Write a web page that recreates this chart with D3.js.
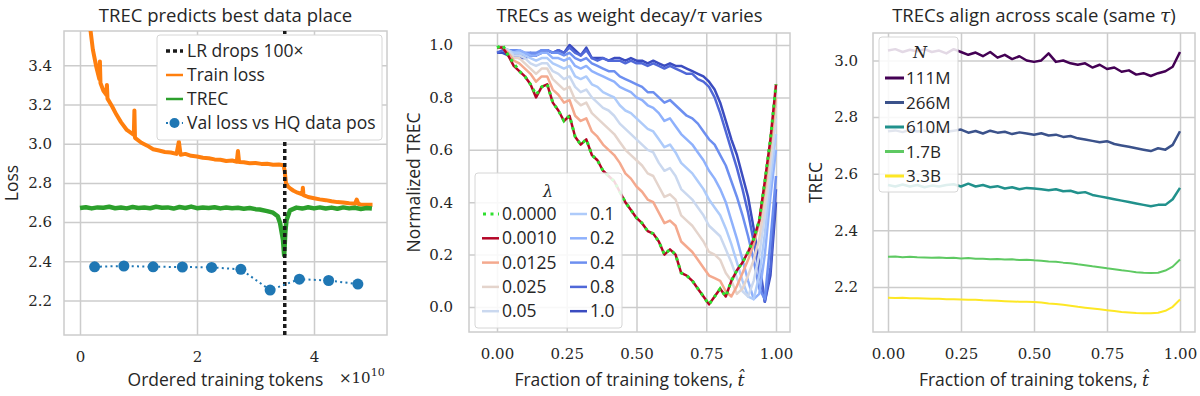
<!DOCTYPE html>
<html>
<head>
<meta charset="utf-8">
<script src="https://cdn.jsdelivr.net/npm/d3@7"></script>
<style>
  body { margin: 0; background: #fff; }
  text { fill: #262626; }
  .sans { font-family: "Open Sans", "Noto Sans", sans-serif; }
  .tick text { font-family: "DejaVu Serif", serif; font-size: 15px; fill: #262626; }
</style>
</head>
<body>
<div id="chart"></div>
<script>
// ---------- panel 1: loss vs ordered training tokens (x in units of 1e10) ----------
const trainX = [0.10, 0.15, 0.22, 0.28, 0.33, 0.34, 0.35, 0.40, 0.45, 0.46, 0.47, 0.55, 0.62, 0.70, 0.80,
  0.92, 0.93, 0.94, 1.05, 1.15, 1.25, 1.35, 1.45, 1.55, 1.65, 1.69, 1.72, 1.80, 1.90, 2.00, 2.10, 2.20,
  2.30, 2.40, 2.50, 2.60, 2.68, 2.70, 2.72, 2.80, 2.90, 3.00, 3.10, 3.20, 3.30, 3.40, 3.48, 3.50, 3.52,
  3.56, 3.60, 3.65, 3.72, 3.80, 3.81, 3.82, 3.90, 4.00, 4.10, 4.20, 4.30, 4.40, 4.50, 4.60, 4.70, 4.73,
  4.76, 4.80, 4.90, 5.00];
const trainY = [3.90, 3.65, 3.48, 3.39, 3.33, 3.42, 3.31, 3.27, 3.25, 3.30, 3.23, 3.19, 3.15, 3.11, 3.07,
  3.045, 3.17, 3.03, 3.005, 2.99, 2.972, 2.965, 2.958, 2.955, 2.948, 3.01, 2.944, 2.948, 2.938, 2.935,
  2.928, 2.926, 2.92, 2.918, 2.912, 2.914, 2.908, 2.963, 2.906, 2.905, 2.90, 2.902, 2.897, 2.898, 2.893,
  2.894, 2.89, 2.86, 2.80, 2.78, 2.77, 2.76, 2.75, 2.742, 2.775, 2.738, 2.728, 2.722, 2.716, 2.712,
  2.706, 2.702, 2.700, 2.696, 2.694, 2.715, 2.692, 2.690, 2.688, 2.688];

const trecX = [0.00, 0.10, 0.20, 0.30, 0.40, 0.50, 0.60, 0.70, 0.80, 0.90, 1.00, 1.10, 1.20, 1.30, 1.40,
  1.50, 1.60, 1.70, 1.80, 1.90, 2.00, 2.10, 2.20, 2.30, 2.40, 2.50, 2.60, 2.70, 2.80, 2.90, 3.00, 3.07,
  3.20, 3.30, 3.38, 3.42, 3.47, 3.49, 3.51, 3.53, 3.59, 3.70, 3.80, 3.90, 4.00, 4.10, 4.20, 4.30, 4.40,
  4.50, 4.60, 4.70, 4.80, 4.90, 4.99];
const trecY = [2.672, 2.676, 2.670, 2.675, 2.673, 2.678, 2.671, 2.674, 2.670, 2.677, 2.672, 2.675, 2.671,
  2.678, 2.673, 2.675, 2.669, 2.677, 2.672, 2.679, 2.671, 2.675, 2.672, 2.676, 2.670, 2.674, 2.671, 2.673,
  2.668, 2.672, 2.666, 2.664, 2.656, 2.648, 2.630, 2.595, 2.51, 2.43, 2.55, 2.61, 2.66, 2.674, 2.669,
  2.676, 2.670, 2.675, 2.669, 2.674, 2.668, 2.675, 2.670, 2.673, 2.667, 2.672, 2.669];

const valX = [0.25, 0.75, 1.25, 1.75, 2.25, 2.75, 3.25, 3.75, 4.25, 4.75];
const valY = [2.372, 2.376, 2.372, 2.371, 2.369, 2.359, 2.253, 2.309, 2.302, 2.284];
const lrDropX = 3.5;

const p1XTicks = [0, 2, 4];
const p1YTicks = [2.2, 2.4, 2.6, 2.8, 3.0, 3.2, 3.4];

// ---------- panel 2: normalized TREC for each weight decay ----------
const tGrid = [0.00, 0.02, 0.04, 0.06, 0.08, 0.10, 0.12, 0.14, 0.16, 0.18, 0.20, 0.22, 0.24, 0.26, 0.28,
  0.30, 0.32, 0.34, 0.36, 0.38, 0.40, 0.42, 0.44, 0.46, 0.48, 0.50, 0.52, 0.54, 0.56, 0.58, 0.60, 0.62,
  0.64, 0.66, 0.68, 0.70, 0.72, 0.74, 0.76, 0.78, 0.80, 0.82, 0.84, 0.86, 0.88, 0.90, 0.92, 0.94, 0.96,
  0.98, 1.00];

const lambdaLabels = ["0.0000", "0.0010", "0.0125", "0.025", "0.05", "0.1", "0.2", "0.4", "0.8", "1.0"];
const lambdaColors = ["#2ee02e", "#b40426", "#f4a98e", "#e4d4cc", "#cad8ef", "#aecbfa", "#8fb1fc",
  "#6d8ff0", "#5068d8", "#3b4cc0"];

const trecL0000 = [0.99, 1.00, 0.96, 0.93, 0.90, 0.88, 0.85, 0.81, 0.84, 0.85, 0.78, 0.75, 0.71, 0.73,
  0.65, 0.62, 0.64, 0.58, 0.56, 0.52, 0.50, 0.48, 0.44, 0.40, 0.37, 0.34, 0.32, 0.29, 0.28, 0.25, 0.20,
  0.22, 0.20, 0.13, 0.12, 0.10, 0.07, 0.04, 0.01, 0.04, 0.07, 0.04, 0.10, 0.14, 0.17, 0.21, 0.26, 0.33,
  0.48, 0.64, 0.85];
const trecL0010 = [0.99, 0.99, 0.96, 0.92, 0.90, 0.88, 0.85, 0.80, 0.84, 0.85, 0.78, 0.75, 0.71, 0.73,
  0.65, 0.62, 0.64, 0.58, 0.56, 0.52, 0.50, 0.48, 0.44, 0.40, 0.37, 0.34, 0.32, 0.29, 0.28, 0.25, 0.20,
  0.22, 0.20, 0.13, 0.12, 0.10, 0.07, 0.04, 0.01, 0.04, 0.07, 0.04, 0.10, 0.14, 0.17, 0.21, 0.26, 0.33,
  0.48, 0.64, 0.85];
const trecL0125 = [0.99, 0.99, 0.97, 0.94, 0.93, 0.91, 0.89, 0.86, 0.88, 0.88, 0.83, 0.81, 0.78, 0.79,
  0.73, 0.71, 0.72, 0.67, 0.65, 0.62, 0.60, 0.58, 0.55, 0.51, 0.49, 0.46, 0.44, 0.41, 0.40, 0.36, 0.32,
  0.33, 0.31, 0.25, 0.23, 0.21, 0.18, 0.15, 0.12, 0.11, 0.10, 0.06, 0.04, 0.08, 0.13, 0.18, 0.24, 0.32,
  0.45, 0.62, 0.80];
const trecL025 = [0.99, 0.99, 0.97, 0.95, 0.95, 0.93, 0.91, 0.89, 0.91, 0.91, 0.87, 0.85, 0.83, 0.84,
  0.79, 0.77, 0.78, 0.74, 0.72, 0.70, 0.68, 0.66, 0.63, 0.60, 0.58, 0.56, 0.54, 0.51, 0.50, 0.46, 0.42,
  0.43, 0.41, 0.35, 0.33, 0.31, 0.28, 0.25, 0.21, 0.20, 0.18, 0.13, 0.10, 0.05, 0.07, 0.12, 0.18, 0.26,
  0.40, 0.58, 0.76];
const trecL05 = [0.99, 0.99, 0.98, 0.96, 0.96, 0.95, 0.93, 0.92, 0.93, 0.93, 0.90, 0.89, 0.87, 0.88,
  0.84, 0.82, 0.83, 0.80, 0.78, 0.76, 0.75, 0.73, 0.70, 0.68, 0.66, 0.64, 0.62, 0.60, 0.59, 0.55, 0.52,
  0.53, 0.50, 0.45, 0.43, 0.41, 0.38, 0.35, 0.31, 0.29, 0.27, 0.22, 0.17, 0.11, 0.06, 0.04, 0.10, 0.20,
  0.35, 0.53, 0.72];
const trecL1 = [0.99, 0.99, 0.98, 0.97, 0.97, 0.96, 0.95, 0.94, 0.95, 0.95, 0.93, 0.92, 0.91, 0.92,
  0.88, 0.87, 0.88, 0.85, 0.84, 0.82, 0.81, 0.80, 0.77, 0.75, 0.74, 0.72, 0.70, 0.68, 0.67, 0.64, 0.61,
  0.62, 0.59, 0.55, 0.53, 0.51, 0.48, 0.45, 0.41, 0.38, 0.35, 0.30, 0.24, 0.17, 0.10, 0.04, 0.03, 0.12,
  0.28, 0.48, 0.66];
const trecL2 = [0.99, 0.99, 0.98, 0.97, 0.98, 0.97, 0.96, 0.96, 0.97, 0.97, 0.95, 0.95, 0.94, 0.95,
  0.92, 0.91, 0.92, 0.90, 0.89, 0.88, 0.87, 0.86, 0.84, 0.83, 0.82, 0.80, 0.79, 0.77, 0.76, 0.74, 0.71,
  0.72, 0.69, 0.66, 0.64, 0.62, 0.59, 0.56, 0.52, 0.49, 0.45, 0.40, 0.33, 0.26, 0.18, 0.10, 0.03, 0.05,
  0.20, 0.42, 0.60];
const trecL4 = [0.99, 0.99, 0.98, 0.98, 0.98, 0.97, 0.97, 0.97, 0.98, 0.98, 0.97, 0.97, 0.96, 0.97,
  0.95, 0.94, 0.95, 0.93, 0.92, 0.91, 0.90, 0.90, 0.88, 0.87, 0.86, 0.85, 0.84, 0.82, 0.82, 0.80, 0.78,
  0.79, 0.77, 0.75, 0.73, 0.72, 0.70, 0.67, 0.64, 0.62, 0.58, 0.54, 0.48, 0.42, 0.35, 0.27, 0.18, 0.07,
  0.03, 0.25, 0.50];
const trecL8 = [0.97, 0.98, 0.97, 0.96, 0.96, 0.96, 0.97, 0.96, 0.98, 0.98, 0.97, 0.98, 0.97, 0.99,
  0.97, 0.96, 0.98, 0.95, 0.94, 0.95, 0.94, 0.94, 0.94, 0.93, 0.94, 0.93, 0.93, 0.92, 0.93, 0.92, 0.91,
  0.92, 0.91, 0.90, 0.89, 0.89, 0.87, 0.86, 0.84, 0.80, 0.74, 0.67, 0.60, 0.53, 0.45, 0.36, 0.25, 0.13,
  0.02, 0.15, 0.45];
const trecL10 = [0.97, 0.97, 0.96, 0.96, 0.95, 0.95, 0.96, 0.96, 0.97, 0.98, 0.97, 0.98, 0.97, 1.00,
  0.98, 0.96, 0.99, 0.95, 0.95, 0.95, 0.94, 0.95, 0.95, 0.94, 0.95, 0.94, 0.94, 0.93, 0.94, 0.93, 0.92,
  0.93, 0.92, 0.92, 0.91, 0.90, 0.89, 0.88, 0.86, 0.83, 0.78, 0.71, 0.64, 0.58, 0.50, 0.42, 0.30, 0.17,
  0.02, 0.12, 0.40];
const lambdaSeries = [trecL0000, trecL0010, trecL0125, trecL025, trecL05, trecL1, trecL2, trecL4, trecL8, trecL10];

const p2Ticks = [0, 0.25, 0.5, 0.75, 1.0];
const p2YTicks = [0, 0.2, 0.4, 0.6, 0.8, 1.0];

// ---------- panel 3: TREC across model size ----------
const tGrid3 = [0.000, 0.025, 0.050, 0.075, 0.100, 0.125, 0.150, 0.175, 0.200, 0.225, 0.250, 0.275, 0.300,
  0.325, 0.350, 0.375, 0.400, 0.425, 0.450, 0.475, 0.500, 0.525, 0.550, 0.575, 0.600, 0.625, 0.650, 0.675,
  0.700, 0.725, 0.750, 0.775, 0.800, 0.825, 0.850, 0.875, 0.900, 0.925, 0.950, 0.975, 1.000];
const sizeLabels = ["111M", "266M", "610M", "1.7B", "3.3B"];
const sizeColors = ["#440154", "#3b528b", "#21918c", "#5ec962", "#fde725"];
const trec111M = [3.035, 3.040, 3.030, 3.038, 3.032, 3.040, 3.030, 3.035, 3.025, 3.040, 3.030, 3.020, 3.028,
  3.015, 3.030, 3.010, 3.020, 3.005, 3.015, 3.000, 2.995, 3.000, 3.025, 2.995, 3.000, 2.990, 2.985, 2.990,
  2.975, 2.985, 2.970, 2.975, 2.960, 2.965, 2.950, 2.955, 2.945, 2.955, 2.962, 2.978, 3.030];
const trec266M = [2.750, 2.753, 2.747, 2.755, 2.749, 2.753, 2.745, 2.756, 2.748, 2.752, 2.756, 2.745, 2.751,
  2.742, 2.752, 2.745, 2.748, 2.740, 2.746, 2.742, 2.738, 2.743, 2.735, 2.738, 2.730, 2.733, 2.725, 2.721,
  2.716, 2.711, 2.715, 2.705, 2.700, 2.695, 2.690, 2.685, 2.680, 2.690, 2.685, 2.702, 2.750];
const trec610M = [2.560, 2.555, 2.562, 2.555, 2.560, 2.552, 2.558, 2.555, 2.560, 2.563, 2.555, 2.565, 2.555,
  2.560, 2.552, 2.556, 2.548, 2.552, 2.545, 2.550, 2.548, 2.545, 2.542, 2.545, 2.538, 2.540, 2.532, 2.535,
  2.525, 2.520, 2.515, 2.510, 2.505, 2.500, 2.495, 2.490, 2.485, 2.490, 2.490, 2.510, 2.550];
const trec1_7B = [2.307, 2.308, 2.305, 2.307, 2.305, 2.304, 2.303, 2.304, 2.302, 2.303, 2.301, 2.302, 2.300,
  2.300, 2.298, 2.299, 2.297, 2.298, 2.295, 2.296, 2.294, 2.293, 2.290, 2.289, 2.286, 2.284, 2.280, 2.277,
  2.273, 2.270, 2.266, 2.263, 2.259, 2.256, 2.252, 2.250, 2.249, 2.250, 2.258, 2.272, 2.297];
const trec3_3B = [2.162, 2.161, 2.162, 2.160, 2.160, 2.159, 2.158, 2.158, 2.157, 2.157, 2.156, 2.155, 2.155,
  2.153, 2.152, 2.151, 2.150, 2.149, 2.148, 2.148, 2.147, 2.145, 2.142, 2.140, 2.137, 2.134, 2.130, 2.127,
  2.124, 2.121, 2.118, 2.115, 2.112, 2.110, 2.108, 2.107, 2.107, 2.109, 2.116, 2.130, 2.156];
const sizeSeries = [trec111M, trec266M, trec610M, trec1_7B, trec3_3B];
const p3YTicks = [2.2, 2.4, 2.6, 2.8, 3.0];

// ---------- drawing ----------
const width = 1200, height = 396;
const grid = "#cccccc";
const titleSize = 18.5, labelSize = 17.5, legendSize = 17.5;
const svg = d3.select("#chart").append("svg").attr("width", width).attr("height", height);

function makePanel(cfg) {
  const x = d3.scaleLinear().domain(cfg.xDomain).range([cfg.left, cfg.right]);
  const y = d3.scaleLinear().domain(cfg.yDomain).range([cfg.bottom, cfg.top]);
  const g = svg.append("g");

  g.append("g")
    .attr("transform", `translate(0,${cfg.bottom})`)
    .call(d3.axisBottom(x).tickValues(cfg.xTicks).tickFormat(cfg.xFormat)
      .tickSize(-(cfg.bottom - cfg.top)).tickPadding(16))
    .call(a => a.select(".domain").remove())
    .call(a => a.selectAll(".tick line").attr("stroke", grid).attr("stroke-width", 1.5));

  g.append("g")
    .attr("transform", `translate(${cfg.left},0)`)
    .call(d3.axisLeft(y).tickValues(cfg.yTicks).tickFormat(d3.format(".1f"))
      .tickSize(-(cfg.right - cfg.left)).tickPadding(cfg.yPad))
    .call(a => a.select(".domain").remove())
    .call(a => a.selectAll(".tick line").attr("stroke", grid).attr("stroke-width", 1.5));

  g.append("rect")
    .attr("x", cfg.left).attr("y", cfg.top)
    .attr("width", cfg.right - cfg.left).attr("height", cfg.bottom - cfg.top)
    .attr("fill", "none").attr("stroke", grid).attr("stroke-width", 1.5);

  svg.append("clipPath").attr("id", cfg.id)
    .append("rect")
    .attr("x", cfg.left).attr("y", cfg.top)
    .attr("width", cfg.right - cfg.left).attr("height", cfg.bottom - cfg.top);
  const plot = g.append("g").attr("clip-path", `url(#${cfg.id})`);

  const cx = (cfg.left + cfg.right) / 2;
  const cy = (cfg.top + cfg.bottom) / 2;
  g.append("text").attr("class", "sans")
    .attr("x", cx).attr("y", 22).attr("text-anchor", "middle")
    .attr("font-size", titleSize).text(cfg.title);
  g.append("text").attr("class", "sans")
    .attr("x", cx).attr("y", 386).attr("text-anchor", "middle")
    .attr("font-size", labelSize).text(cfg.xLabel);
  g.append("text").attr("class", "sans")
    .attr("transform", `translate(${cfg.yLabelX},${cy}) rotate(-90)`)
    .attr("text-anchor", "middle").attr("font-size", labelSize).text(cfg.yLabel);

  return { x, y, g, plot };
}

function legendBox(g, x0, y0, w, h, alpha) {
  g.append("rect")
    .attr("x", x0).attr("y", y0).attr("width", w).attr("height", h)
    .attr("rx", 3).attr("fill", "#fff").attr("fill-opacity", alpha)
    .attr("stroke", "#d6d6d6").attr("stroke-width", 1);
}

// panel 1
const p1 = makePanel({
  id: "clip1", left: 64, right: 387, top: 31, bottom: 335,
  xDomain: [-16 / 58.5, 307 / 58.5], yDomain: [2.024, 3.575],
  xTicks: p1XTicks, xFormat: d3.format("d"), yTicks: p1YTicks, yPad: 12,
  title: "TREC predicts best data place", xLabel: "Ordered training tokens",
  yLabel: "Loss", yLabelX: 18
});
const line1 = (xs, ys) => d3.line().x((d, i) => p1.x(xs[i])).y((d, i) => p1.y(ys[i]))(xs);

p1.plot.append("path").attr("d", line1(trainX, trainY))
  .attr("fill", "none").attr("stroke", "#ff7f0e").attr("stroke-width", 4).attr("stroke-linejoin", "round");
p1.plot.append("path").attr("d", line1(trecX, trecY))
  .attr("fill", "none").attr("stroke", "#2ca02c").attr("stroke-width", 4.5).attr("stroke-linejoin", "round");
p1.plot.append("line")
  .attr("x1", p1.x(lrDropX)).attr("x2", p1.x(lrDropX))
  .attr("y1", p1.y.range()[0]).attr("y2", p1.y.range()[1])
  .attr("stroke", "#1a1a1a").attr("stroke-width", 3.5).attr("stroke-dasharray", "4,3");
p1.plot.append("path").attr("d", line1(valX, valY))
  .attr("fill", "none").attr("stroke", "#1f77b4").attr("stroke-width", 2).attr("stroke-dasharray", "2,3.3");
p1.plot.selectAll("circle.val").data(valX).join("circle")
  .attr("cx", (d, i) => p1.x(valX[i])).attr("cy", (d, i) => p1.y(valY[i]))
  .attr("r", 5.5).attr("fill", "#1f77b4");

p1.g.append("text").attr("x", 339).attr("y", 383)
  .attr("font-family", "DejaVu Serif, serif").attr("font-size", 15)
  .text("×10").append("tspan").attr("dy", -7).attr("font-size", 11).text("10");

legendBox(p1.g, 157, 35, 225, 105, 1);
const leg1 = [
  { label: "LR drops 100×", kind: "drop" },
  { label: "Train loss", kind: "line", color: "#ff7f0e" },
  { label: "TREC", kind: "line", color: "#2ca02c" },
  { label: "Val loss vs HQ data pos", kind: "val", color: "#1f77b4" }
];
leg1.forEach((d, i) => {
  const yy = 51 + i * 24;
  if (d.kind === "drop") {
    p1.g.append("line").attr("x1", 166).attr("x2", 183).attr("y1", yy).attr("y2", yy)
      .attr("stroke", "#1a1a1a").attr("stroke-width", 3.5).attr("stroke-dasharray", "4,3");
  } else if (d.kind === "line") {
    p1.g.append("line").attr("x1", 166).attr("x2", 183).attr("y1", yy).attr("y2", yy)
      .attr("stroke", d.color).attr("stroke-width", 2.5);
  } else {
    p1.g.append("line").attr("x1", 166).attr("x2", 183).attr("y1", yy).attr("y2", yy)
      .attr("stroke", d.color).attr("stroke-width", 2).attr("stroke-dasharray", "2,3.3");
    p1.g.append("circle").attr("cx", 174.5).attr("cy", yy).attr("r", 5).attr("fill", d.color);
  }
  p1.g.append("text").attr("class", "sans").attr("x", 187).attr("y", yy + 6)
    .attr("font-size", legendSize).text(d.label);
});

// panel 2
const p2 = makePanel({
  id: "clip2", left: 469, right: 790, top: 33, bottom: 332,
  xDomain: [-28 / 279, 293 / 279], yDomain: [-25 / 262, 274 / 262],
  xTicks: p2Ticks, xFormat: d3.format(".2f"), yTicks: p2YTicks, yPad: 16,
  title: "", xLabel: "", yLabel: "Normalized TREC", yLabelX: 420
});
const line2 = d3.line().x((d, i) => p2.x(tGrid[i])).y(d => p2.y(d));
for (let k = lambdaSeries.length - 1; k >= 1; k--) {
  p2.plot.append("path").attr("d", line2(lambdaSeries[k]))
    .attr("fill", "none").attr("stroke", lambdaColors[k]).attr("stroke-width", 2.5)
    .attr("stroke-linejoin", "round");
}
p2.plot.append("path").attr("d", line2(lambdaSeries[0]))
  .attr("fill", "none").attr("stroke", lambdaColors[0]).attr("stroke-width", 3)
  .attr("stroke-dasharray", "3,4.5").attr("stroke-linecap", "butt");

const t2 = p2.g.append("text").attr("class", "sans").attr("x", 629.5).attr("y", 22)
  .attr("text-anchor", "middle").attr("font-size", titleSize);
t2.append("tspan").text("TRECs as weight decay/");
t2.append("tspan").attr("font-family", "DejaVu Serif, serif").attr("font-style", "italic").text("τ");
t2.append("tspan").text(" varies");
const xl2 = p2.g.append("text").attr("class", "sans").attr("x", 629.5).attr("y", 386)
  .attr("text-anchor", "middle").attr("font-size", labelSize);
xl2.append("tspan").text("Fraction of training tokens, ");
xl2.append("tspan").attr("font-family", "DejaVu Serif, serif").attr("font-style", "italic").text("t\u0302");

legendBox(p2.g, 475, 173, 147, 155, 0.85);
p2.g.append("text").attr("x", 548).attr("y", 197).attr("text-anchor", "middle")
  .attr("font-family", "DejaVu Serif, serif").attr("font-style", "italic").attr("font-size", 16).text("λ");
lambdaLabels.forEach((lab, i) => {
  const col = Math.floor(i / 5), row = i % 5;
  const hx = col === 0 ? 482 : 570;
  const yy = 214 + row * 24.3;
  const ln = p2.g.append("line").attr("x1", hx).attr("x2", hx + 17).attr("y1", yy).attr("y2", yy)
    .attr("stroke", lambdaColors[i]).attr("stroke-width", i === 0 ? 3 : 2.5);
  if (i === 0) ln.attr("stroke-dasharray", "3,4.5").attr("x1", hx + 1);
  p2.g.append("text").attr("class", "sans").attr("x", hx + 20).attr("y", yy + 6)
    .attr("font-size", legendSize).text(lab);
});

// panel 3
const p3 = makePanel({
  id: "clip3", left: 873, right: 1195, top: 33, bottom: 332,
  xDomain: [-15 / 292, 307 / 292], yDomain: [2.041, 3.097],
  xTicks: p2Ticks, xFormat: d3.format(".2f"), yTicks: p3YTicks, yPad: 15,
  title: "", xLabel: "", yLabel: "TREC", yLabelX: 822
});
const line3 = d3.line().x((d, i) => p3.x(tGrid3[i])).y(d => p3.y(d));
sizeSeries.forEach((s, k) => {
  p3.plot.append("path").attr("d", line3(s))
    .attr("fill", "none").attr("stroke", sizeColors[k]).attr("stroke-width", k < 3 ? 2.5 : 2)
    .attr("stroke-linejoin", "round");
});
const t3 = p3.g.append("text").attr("class", "sans").attr("x", 1034).attr("y", 22)
  .attr("text-anchor", "middle").attr("font-size", titleSize);
t3.append("tspan").text("TRECs align across scale (same ");
t3.append("tspan").attr("font-family", "DejaVu Serif, serif").attr("font-style", "italic").text("τ");
t3.append("tspan").text(")");
const xl3 = p3.g.append("text").attr("class", "sans").attr("x", 1034).attr("y", 386)
  .attr("text-anchor", "middle").attr("font-size", labelSize);
xl3.append("tspan").text("Fraction of training tokens, ");
xl3.append("tspan").attr("font-family", "DejaVu Serif, serif").attr("font-style", "italic").text("t\u0302");

legendBox(p3.g, 879, 37, 79, 155, 0.85);
p3.g.append("text").attr("x", 920).attr("y", 58).attr("text-anchor", "middle")
  .attr("font-family", "DejaVu Serif, serif").attr("font-style", "italic").attr("font-size", 16).text("N");
sizeLabels.forEach((lab, i) => {
  const yy = 78 + i * 24.5;
  p3.g.append("line").attr("x1", 885).attr("x2", 904).attr("y1", yy).attr("y2", yy)
    .attr("stroke", sizeColors[i]).attr("stroke-width", 3);
  p3.g.append("text").attr("class", "sans").attr("x", 906).attr("y", yy + 6)
    .attr("font-size", legendSize - 0.5).text(lab);
});
</script>
</body>
</html>
